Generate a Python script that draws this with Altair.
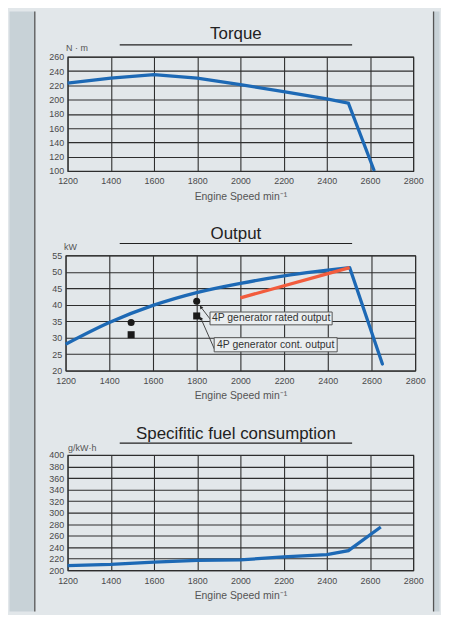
import altair as alt
import pandas as pd

FONT = "Liberation Sans"

rpm_ticks = [1200, 1400, 1600, 1800, 2000, 2200, 2400, 2600, 2800]

# Torque
torque_rpm = [1200, 1400, 1600, 1800, 2000, 2200, 2400, 2500, 2620]
torque_nm = [223, 230, 235, 230, 221, 211, 201, 195, 100]
torque_ticks = [100, 120, 140, 160, 180, 200, 220, 240, 260]

# Output (rising part and drop after rated speed)
output_rpm = [1200, 1400, 1600, 1800, 2000, 2200, 2400, 2500]
output_kw = [28.0, 34.6, 39.8, 43.7, 46.5, 48.8, 50.5, 51.3]
drop_rpm = [2500, 2650]
drop_kw = [51.3, 22.0]
rated_rpm = [2000, 2500]
rated_kw = [42.1, 51.3]
gen_rpm = [1500, 1800]
gen_rated_kw = [34.6, 41.1]
gen_cont_kw = [30.9, 36.6]
output_ticks = [20, 25, 30, 35, 40, 45, 50, 55]

# annotation boxes (data units)
box_labels = ["4P generator rated output", "4P generator cont. output"]
box_rpm1 = [1861, 1880]
box_rpm2 = [2420, 2443]
box_kw1 = [33.9, 25.7]
box_kw2 = [37.8, 30.0]
arrow_tail_rpm = [1861, 1884]
arrow_tail_kw = [35.7, 26.1]
arrow_head_rpm = [1819, 1819]
arrow_head_kw = [39.3, 35.9]
arrow_angle = [322, 336]

# Specific fuel consumption
sfc_rpm = [1200, 1400, 1600, 1800, 2000, 2200, 2400, 2500, 2650]
sfc_g = [208, 210, 214, 217, 218, 223, 227, 234, 275]
sfc_ticks = [200, 220, 240, 260, 280, 300, 320, 340, 360, 380, 400]

BLUE = "#1d69b5"
RED = "#f25c3d"
GRID = "#2e2e2e"
PANEL = "#e2e7ea"
STRIP = "#c8d2d7"

one = alt.Data(values=[{"a": 1}])


def x_axis():
    return alt.Axis(
        values=rpm_ticks, format="d", title="Engine Speed min⁻¹", grid=True,
        gridColor=GRID, gridWidth=1.1, domain=False, ticks=False,
        labelPadding=6, labelFontSize=9, labelColor="#4a4a4a",
        labelFont=FONT, labelFlush=False, labelOverlap=False,
        titleFont=FONT, titleFontSize=10.5, titleFontWeight="normal",
        titleColor="#555", titlePadding=5.5,
    )


def y_axis(ticks):
    return alt.Axis(
        values=ticks, format="d", title=None, grid=True, gridColor=GRID,
        gridWidth=1.1, domain=False, ticks=False, labelPadding=4,
        labelFontSize=9, labelColor="#4a4a4a", labelFont=FONT,
        labelFlush=False, labelOverlap=False,
    )


def xe(field="rpm"):
    return alt.X(f"{field}:Q",
                 scale=alt.Scale(domain=[1200, 2800], nice=False, zero=False),
                 axis=x_axis())


def ye(lo, hi, ticks, field="val"):
    return alt.Y(f"{field}:Q",
                 scale=alt.Scale(domain=[lo, hi], nice=False, zero=False),
                 axis=y_axis(ticks))


def deco(title, tx, ty, ul_x1, ul_x2, unit, ux, uy):
    t = alt.Chart(one).mark_text(
        text=title, font=FONT, fontSize=17, color="#222", align="center",
        baseline="alphabetic",
    ).encode(x=alt.value(tx), y=alt.value(ty))
    ul = alt.Chart(one).mark_rule(color="#222", strokeWidth=1.2).encode(
        x=alt.value(ul_x1), x2=alt.value(ul_x2), y=alt.value(-12)
    )
    u = alt.Chart(one).mark_text(
        text=unit, font=FONT, fontSize=9, color="#555", align="left",
        baseline="alphabetic",
    ).encode(x=alt.value(ux), y=alt.value(uy))
    return [t, ul, u]


# ---------- side strips (drawn in the first panel) ----------
W_T = 348
TOP, BOT = -45.5, 558.5
bg_left = alt.Chart(one).mark_rect(color=STRIP).encode(
    x=alt.value(-58.5), x2=alt.value(-33), y=alt.value(TOP), y2=alt.value(BOT)
)
bg_right = alt.Chart(one).mark_rect(color=STRIP).encode(
    x=alt.value(368.5), x2=alt.value(374.5), y=alt.value(TOP), y2=alt.value(BOT)
)
bg_lline = alt.Chart(one).mark_rule(color="#555", strokeWidth=1.3).encode(
    x=alt.value(-33), y=alt.value(TOP), y2=alt.value(BOT)
)
bg_rline = alt.Chart(one).mark_rule(color="#555", strokeWidth=1.3).encode(
    x=alt.value(368.5), y=alt.value(TOP), y2=alt.value(BOT)
)

# ---------- Torque ----------
df_t = pd.DataFrame({"rpm": torque_rpm, "val": torque_nm})
t_line = alt.Chart(df_t).mark_line(color=BLUE, strokeWidth=3.3).encode(
    x=xe(), y=ye(100, 260, torque_ticks)
)
torque = alt.layer(
    bg_left, bg_right, bg_lline, bg_rline,
    t_line,
    *deco("Torque", 169.5, -18, 52.5, 286.5, "N · m", -1.5, -5.5),
).properties(width=W_T, height=115)

# ---------- Output ----------
W_O = 352
OY = (20, 55, output_ticks)
df_o = pd.DataFrame({"rpm": output_rpm, "val": output_kw})
df_d = pd.DataFrame({"rpm": drop_rpm, "val": drop_kw})
df_r = pd.DataFrame({"rpm": rated_rpm, "val": rated_kw})
df_gr = pd.DataFrame({"rpm": gen_rpm, "val": gen_rated_kw})
df_gc = pd.DataFrame({"rpm": gen_rpm, "val": gen_cont_kw})
df_box = pd.DataFrame({
    "rpm": box_rpm1, "rpm2": box_rpm2, "val": box_kw1, "val2": box_kw2,
    "label": box_labels,
    "mid_rpm": [(a + b) / 2 for a, b in zip(box_rpm1, box_rpm2)],
    "mid_kw": [(a + b) / 2 for a, b in zip(box_kw1, box_kw2)],
})
df_arr = pd.DataFrame({
    "rpm": arrow_tail_rpm, "val": arrow_tail_kw,
    "rpm2": arrow_head_rpm, "val2": arrow_head_kw, "ang": arrow_angle,
})

o_line = alt.Chart(df_o).mark_line(color=BLUE, strokeWidth=3.3, interpolate="monotone").encode(
    x=xe(), y=ye(*OY))
d_line = alt.Chart(df_d).mark_line(color=BLUE, strokeWidth=3.3, strokeCap="round").encode(
    x=xe(), y=ye(*OY))
r_line = alt.Chart(df_r).mark_line(color=RED, strokeWidth=3.3).encode(x=xe(), y=ye(*OY))
g_circ = alt.Chart(df_gr).mark_circle(size=50, color="#1a1a1a", opacity=1).encode(
    x=xe(), y=ye(*OY))
g_sq = alt.Chart(df_gc).mark_point(shape="square", filled=True, size=50,
                                   color="#1a1a1a", opacity=1).encode(x=xe(), y=ye(*OY))
arr_shaft = alt.Chart(df_arr).mark_rule(color="#333", strokeWidth=0.9).encode(
    x=xe(), y=ye(*OY), x2="rpm2:Q", y2="val2:Q"
)
arr_head = alt.Chart(df_arr).mark_point(
    shape="triangle-up", filled=True, size=14, color="#222", opacity=1
).encode(x=xe("rpm2"), y=ye(*OY, field="val2"),
         angle=alt.Angle("ang:Q", scale=None))
boxes = alt.Chart(df_box).mark_rect(fill="#eaeef0", stroke="#555", strokeWidth=1).encode(
    x=xe(), x2="rpm2:Q", y=ye(*OY), y2="val2:Q"
)
box_text = alt.Chart(df_box).mark_text(font=FONT, fontSize=10.5, color="#333").encode(
    x=xe("mid_rpm"), y=ye(*OY, field="mid_kw"), text="label:N"
)
output = alt.layer(
    o_line, d_line, r_line, arr_shaft, arr_head, g_circ, g_sq, boxes, box_text,
    *deco("Output", 171.5, -17, 54.5, 288.5, "kW", -1.5, -5.5),
).properties(width=W_O, height=116)

# ---------- SFC ----------
df_s = pd.DataFrame({"rpm": sfc_rpm, "val": sfc_g})
s_line = alt.Chart(df_s).mark_line(color=BLUE, strokeWidth=3.3).encode(
    x=xe(), y=ye(200, 400, sfc_ticks)
)
sfc = alt.layer(
    s_line,
    *deco("Specifitic fuel consumption", 169.5, -16, 52.5, 286.5, "g/kW·h", 0.5, -4),
).properties(width=W_T, height=116)

chart = alt.vconcat(torque, output, sfc, spacing=85, bounds="flush", center=True).properties(
    padding=0, background=PANEL
).configure_view(stroke=GRID, strokeWidth=1.1)

chart.save("out.html", embed_options={"renderer": "svg", "actions": False})
